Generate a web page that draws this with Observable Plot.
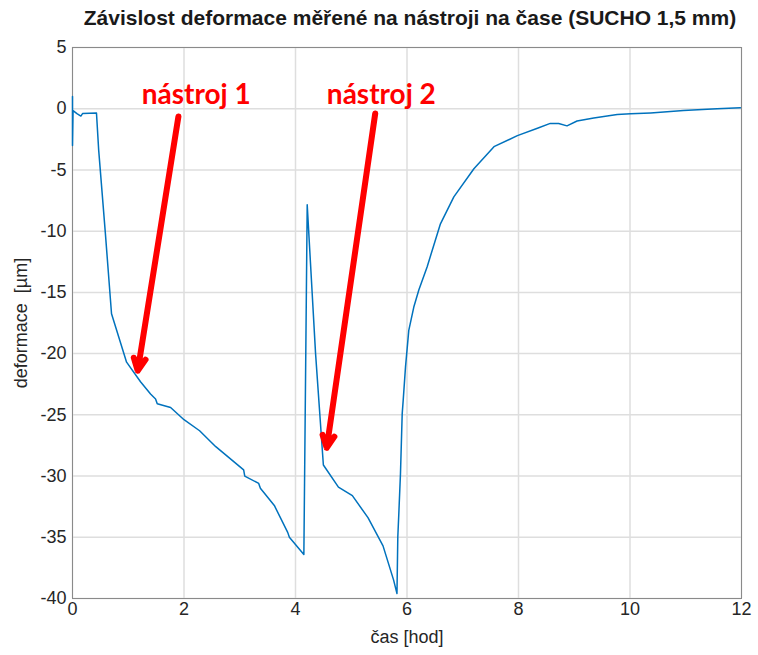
<!DOCTYPE html>
<html>
<head>
<meta charset="utf-8">
<script src="https://cdn.jsdelivr.net/npm/d3@7"></script>
<script src="https://cdn.jsdelivr.net/npm/@observablehq/plot@0.6"></script>
<style>
  body { margin: 0; background: #fff; }
  #title { height: 36px; box-sizing: border-box; padding: 6px 10px 0 72px; text-align: center;
           font: bold 21px "Liberation Sans", Arial, sans-serif; color: #1a1a1a; white-space: nowrap; }
</style>
</head>
<body>
<div id="title">Závislost deformace měřené na nástroji na čase (SUCHO 1,5 mm)</div>
<div id="chart"></div>
<script>
// time [hod]
const cas = [0, 0, 0.01, 0.08, 0.15, 0.18, 0.43, 0.47, 0.59, 0.70, 0.97, 1.22, 1.40, 1.49, 1.52, 1.76,
  2.00, 2.28, 2.57, 3.07, 3.09, 3.34, 3.37, 3.62, 3.86, 3.89, 4.15, 4.21, 4.36, 4.50, 4.77, 5.02,
  5.30, 5.57, 5.76, 5.82, 5.835, 5.853, 5.883, 5.914, 5.932, 5.973, 6.032, 6.122, 6.212, 6.362,
  6.45, 6.60, 6.84, 7.20, 7.56, 7.98, 8.34, 8.57, 8.72, 8.87, 9.05, 9.35, 9.77, 10.01, 10.37, 10.96,
  11.56, 11.98];
// deformation [µm]
const deformace = [1.0, -3.0, -0.15, -0.4, -0.6, -0.4, -0.35, -3.4, -10.2, -16.75, -20.7, -22.3, -23.3,
  -23.7, -24.1, -24.4, -25.4, -26.3, -27.6, -29.5, -30.0, -30.6, -31.0, -32.4, -34.6, -35.0, -36.4,
  -7.85, -20.0, -29.1, -30.9, -31.6, -33.4, -35.7, -38.5, -39.6, -35.0, -33.1, -29.8, -24.9, -23.8,
  -21.1, -18.1, -16.2, -14.8, -12.9,
  -11.6, -9.4, -7.2, -4.9, -3.1, -2.2, -1.6, -1.2, -1.2, -1.4, -1.0, -0.75, -0.47, -0.42, -0.34, -0.15,
  0.0, 0.07];

const xTicks = [0, 2, 4, 6, 8, 10, 12];
const yTicks = [-40, -35, -30, -25, -20, -15, -10, -5, 0, 5];

// annotations
const labelText = ["nástroj 1", "nástroj 2"];
const labelX = [2.22, 5.54];
const labelY = [1.08, 1.08];
const arrowX1 = [1.90, 5.43];
const arrowY1 = [-0.64, -0.39];
const arrowX2 = [1.17, 4.56];
const arrowY2 = [-21.4, -27.7];

const series = cas.map((t, i) => ({t, d: deformace[i]}));
const labels = labelText.map((s, i) => ({s, x: labelX[i], y: labelY[i]}));
const arrows = arrowX1.map((x1, i) => ({x1, y1: arrowY1[i], x2: arrowX2[i], y2: arrowY2[i]}));

const fmt = d => String(d);

const chart = Plot.plot({
  width: 758,
  height: 619,
  marginTop: 11,
  marginBottom: 57,
  marginLeft: 72,
  marginRight: 17,
  style: {fontFamily: "'Liberation Sans', Arial, sans-serif", fontSize: "17px", color: "#262626", background: "#fff"},
  x: {domain: [0, 12]},
  y: {domain: [-40, 5]},
  marks: [
    Plot.gridX(xTicks, {stroke: "#dedede", strokeOpacity: 1, strokeWidth: 1.5}),
    Plot.gridY(yTicks, {stroke: "#dedede", strokeOpacity: 1, strokeWidth: 1.5}),
    Plot.frame({stroke: "#8a8a8a", strokeWidth: 1}),
    Plot.axisX(xTicks, {tickSize: 0, tickPadding: 4, tickFormat: fmt, label: "čas [hod]", labelAnchor: "center", labelArrow: "none", labelOffset: 44, fontSize: 18}),
    Plot.axisY(yTicks, {tickSize: 0, tickPadding: 6, tickFormat: fmt, label: "deformace\u00a0\u00a0[µm]", labelAnchor: "center", labelArrow: "none", labelOffset: 58, fontSize: 18}),
    Plot.line(series, {x: "t", y: "d", stroke: "#0072BD", strokeWidth: 1.5}),
    Plot.arrow(arrows, {x1: "x1", y1: "y1", x2: "x2", y2: "y2", stroke: "#ff0000", strokeWidth: 6, headLength: 3.4, headAngle: 52, strokeLinejoin: "miter"}),
    Plot.text(labels, {x: "x", y: "y", text: "s", fill: "#ff0000", fontSize: 28, fontWeight: "bold", fontFamily: "Lato, 'Liberation Sans', sans-serif"})
  ]
});
document.getElementById("chart").appendChild(chart);
</script>
</body>
</html>
